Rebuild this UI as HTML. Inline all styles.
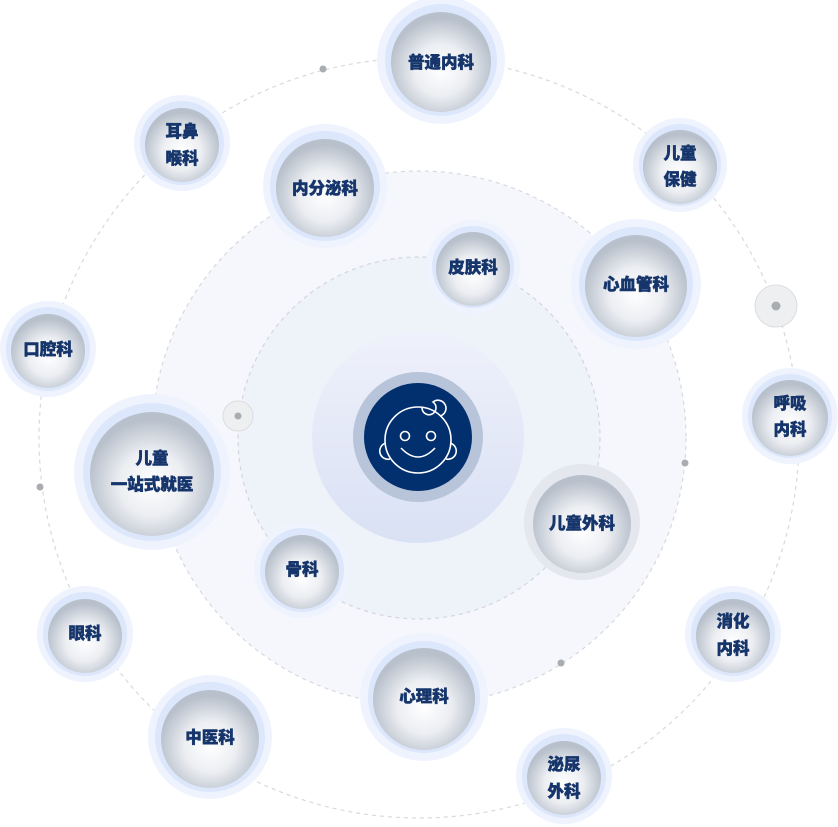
<!DOCTYPE html>
<html><head><meta charset="utf-8"><style>
html,body{margin:0;padding:0;background:#fff;}
svg{display:block}
text{font-family:"Liberation Sans","Noto Sans CJK SC",sans-serif;font-weight:900;fill:#15356b;stroke:#15356b;stroke-width:0.5px;font-size:16.5px;text-anchor:middle;}
</style></head><body>
<svg width="838" height="827" viewBox="0 0 838 827" xmlns="http://www.w3.org/2000/svg">
<defs>
<radialGradient id="ball" cx="50%" cy="58%" r="52%">
<stop offset="0" stop-color="#ffffff"/><stop offset="0.5" stop-color="#eceef2"/><stop offset="1" stop-color="#b8c0cb"/>
</radialGradient>
<linearGradient id="halo" x1="0" y1="0" x2="0" y2="1">
<stop offset="0" stop-color="#eff1fb"/><stop offset="1" stop-color="#d9e1f4"/>
</linearGradient>
</defs>
<circle cx="419" cy="438" r="380" fill="none" stroke="#d6d9de" stroke-width="1.2" stroke-dasharray="4 4"/>
<circle cx="419" cy="438" r="267" fill="#f5f7fc" stroke="#d6d9de" stroke-width="1.2" stroke-dasharray="4 4"/>
<circle cx="419" cy="438" r="181" fill="#eef2f9" stroke="#d3d6dc" stroke-width="1.2" stroke-dasharray="4 4"/>
<circle cx="418" cy="437" r="106" fill="url(#halo)"/>
<circle cx="418" cy="437" r="65" fill="#b8c4d9"/>
<circle cx="418" cy="437" r="54" fill="#022f6e"/>
<g fill="none" stroke="#fff" stroke-width="1.6">
<circle cx="418" cy="440" r="33"/>
<circle cx="405" cy="436" r="4.5"/>
<circle cx="431" cy="436" r="4.5"/>
<path d="M401 448 Q418 466 435 448"/>
<path d="M386 443 a8 8 0 0 0 4 16"/>
<path d="M450 443 a8 8 0 0 1 -4 16"/>
<path d="M422 408 a7 7 0 1 0 11 -6 a8 8 0 1 1 7 14"/>
</g>
<circle cx="776" cy="306" r="21" fill="#eeeff1" stroke="#dcdde0"/><circle cx="776" cy="306" r="4.5" fill="#a9acb1"/>
<circle cx="238" cy="416" r="15" fill="#eeeff1" stroke="#dcdde0"/><circle cx="238" cy="416" r="3.5" fill="#a9acb1"/>
<g fill="#a9acb1"><circle cx="323" cy="69" r="3.5"/><circle cx="40" cy="487" r="3.5"/><circle cx="685" cy="463" r="3.5"/><circle cx="561" cy="663" r="3.5"/></g>

<g><circle cx="441" cy="60" r="64" fill="#eef3fe"/><circle cx="441" cy="60" r="56" fill="#dce7fc"/><circle cx="441" cy="62" r="50" fill="url(#ball)"/><text x="441" y="68">普通内科</text></g>
<g><circle cx="182" cy="143" r="48" fill="#eef3fe"/><circle cx="182" cy="143" r="42" fill="#dce7fc"/><circle cx="182" cy="145" r="37" fill="url(#ball)"/><text x="182" y="137">耳鼻</text><text x="182" y="164">喉科</text></g>
<g><circle cx="325" cy="186" r="62" fill="#eef3fe"/><circle cx="325" cy="186" r="55" fill="#dce7fc"/><circle cx="325" cy="188" r="49" fill="url(#ball)"/><text x="325" y="194">内分泌科</text></g>
<g><circle cx="680" cy="165" r="47" fill="#eef3fe"/><circle cx="680" cy="165" r="41" fill="#dce7fc"/><circle cx="680" cy="167" r="37" fill="url(#ball)"/><text x="680" y="159">儿童</text><text x="680" y="185">保健</text></g>
<g><circle cx="473" cy="267" r="47" fill="#eef3fe"/><circle cx="473" cy="267" r="41" fill="#dce7fc"/><circle cx="473" cy="269" r="37" fill="url(#ball)"/><text x="473" y="273">皮肤科</text></g>
<g><circle cx="636" cy="284" r="65" fill="#eef3fe"/><circle cx="636" cy="284" r="57" fill="#dce7fc"/><circle cx="636" cy="286" r="51" fill="url(#ball)"/><text x="636" y="290">心血管科</text></g>
<g><circle cx="48" cy="349" r="48" fill="#eef3fe"/><circle cx="48" cy="349" r="42" fill="#dce7fc"/><circle cx="48" cy="351" r="37" fill="url(#ball)"/><text x="48" y="355">口腔科</text></g>
<g><circle cx="790" cy="416" r="48" fill="#eef3fe"/><circle cx="790" cy="416" r="42" fill="#dce7fc"/><circle cx="790" cy="418" r="38" fill="url(#ball)"/><text x="790" y="409">呼吸</text><text x="790" y="435">内科</text></g>
<g><circle cx="152" cy="472" r="78" fill="#eef3fe"/><circle cx="152" cy="472" r="69" fill="#dce7fc"/><circle cx="152" cy="474" r="62" fill="url(#ball)"/><text x="152" y="464">儿童</text><text x="152" y="490">一站式就医</text></g>
<g><circle cx="582" cy="522" r="58" fill="#e4e8ee"/><circle cx="582" cy="524" r="49" fill="url(#ball)"/><text x="582" y="529">儿童外科</text></g>
<g><circle cx="302" cy="570" r="48" fill="#eef3fe"/><circle cx="302" cy="570" r="42" fill="#dce7fc"/><circle cx="302" cy="572" r="37" fill="url(#ball)"/><text x="302" y="575">骨科</text></g>
<g><circle cx="85" cy="634" r="48" fill="#eef3fe"/><circle cx="85" cy="634" r="42" fill="#dce7fc"/><circle cx="85" cy="636" r="37" fill="url(#ball)"/><text x="85" y="639">眼科</text></g>
<g><circle cx="733" cy="634" r="48" fill="#eef3fe"/><circle cx="733" cy="634" r="42" fill="#dce7fc"/><circle cx="733" cy="636" r="37" fill="url(#ball)"/><text x="733" y="627">消化</text><text x="733" y="654">内科</text></g>
<g><circle cx="424" cy="697" r="64" fill="#eef3fe"/><circle cx="424" cy="697" r="56" fill="#dce7fc"/><circle cx="424" cy="699" r="51" fill="url(#ball)"/><text x="424" y="702">心理科</text></g>
<g><circle cx="210" cy="737" r="62" fill="#eef3fe"/><circle cx="210" cy="737" r="55" fill="#dce7fc"/><circle cx="210" cy="739" r="49" fill="url(#ball)"/><text x="210" y="743">中医科</text></g>
<g><circle cx="564" cy="776" r="48" fill="#eef3fe"/><circle cx="564" cy="776" r="42" fill="#dce7fc"/><circle cx="564" cy="778" r="37" fill="url(#ball)"/><text x="564" y="770">泌尿</text><text x="564" y="797">外科</text></g>
</svg>
</body></html>
